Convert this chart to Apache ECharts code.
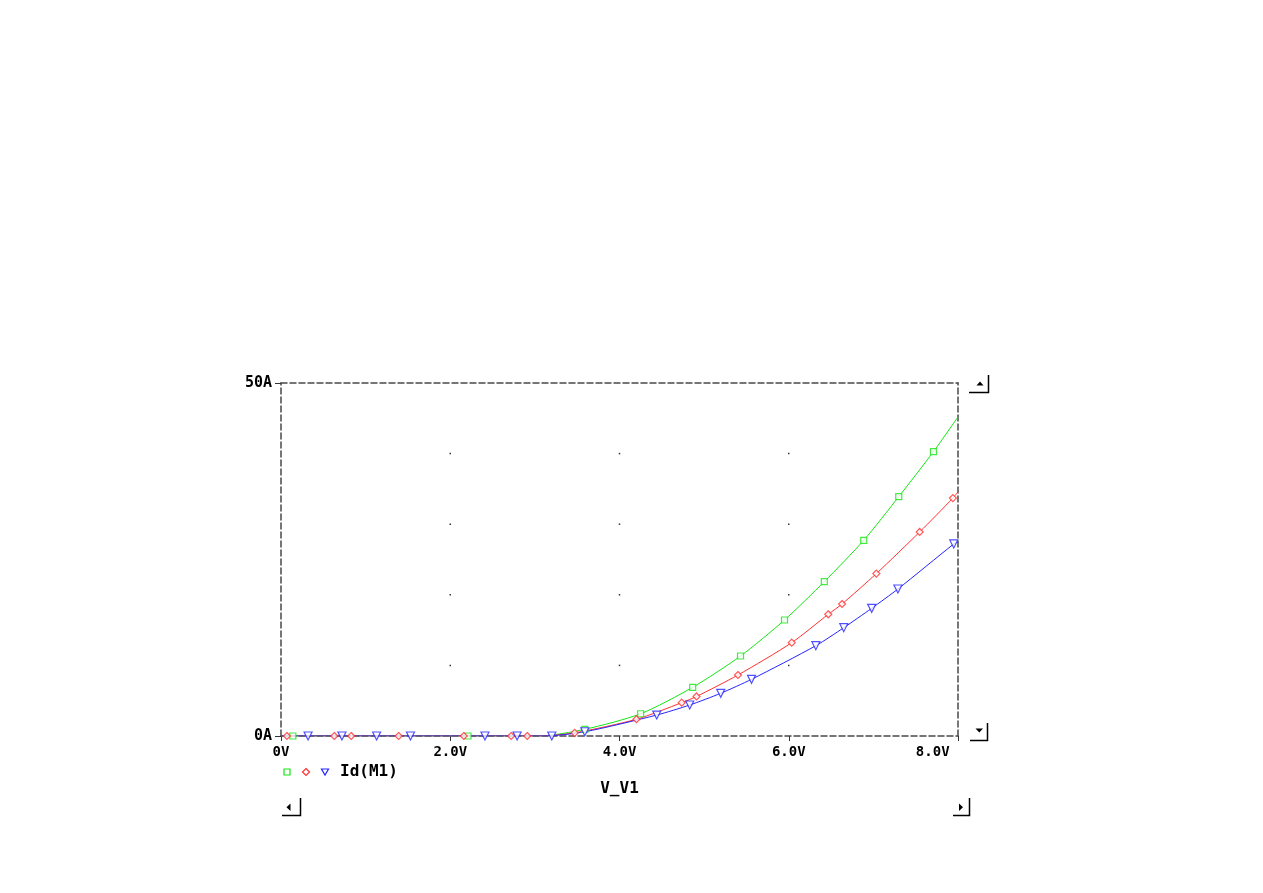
<!DOCTYPE html>
<html>
<head>
<meta charset="utf-8">
<script src="https://cdn.jsdelivr.net/npm/echarts@6/dist/echarts.min.js"></script>
<style>
html,body{margin:0;padding:0;background:#fff;}
#chart{width:1263px;height:893px;}
</style>
</head>
<body>
<div id="chart"></div>
<script>
// ---- data (V_V1 in volts, Id(M1) in amps) ----
const greenCurve = [[0,0],[3.05,0],[3.59,0.95],[4.25,3.15],[4.865,6.9],[5.43,11.33],[5.95,16.43],[6.42,21.86],[6.886,27.72],[7.30,33.9],[7.71,40.27],[8.0,45.2]];
const greenMarks = [[0.14,0],[2.21,0],[3.59,0.95],[4.25,3.15],[4.865,6.9],[5.43,11.33],[5.95,16.43],[6.42,21.86],[6.886,27.72],[7.30,33.9],[7.71,40.27]];

const redCurve = [[0,0],[3.05,0],[3.47,0.45],[4.2,2.37],[4.735,4.72],[4.91,5.6],[5.4,8.64],[6.035,13.22],[6.467,17.24],[6.63,18.7],[7.035,23.0],[7.547,28.9],[7.94,33.7],[8.0,34.6]];
const redMarks = [[0.07,0],[0.63,0],[0.83,0],[1.39,0],[2.16,0],[2.72,0],[2.91,0],[3.47,0.45],[4.2,2.37],[4.735,4.72],[4.91,5.6],[5.4,8.64],[6.035,13.22],[6.467,17.24],[6.63,18.7],[7.035,23.0],[7.547,28.9],[7.94,33.7]];

const blueCurve = [[0,0],[3.1,0],[3.59,0.6],[4.44,2.97],[4.83,4.39],[5.196,6.05],[5.56,8.03],[6.32,12.79],[6.65,15.34],[6.98,18.09],[7.29,20.82],[7.95,27.2],[8.0,27.5]];
const blueMarks = [[0.32,0],[0.72,0],[1.13,0],[1.53,0],[2.41,0],[2.79,0],[3.2,0],[3.59,0.6],[4.44,2.97],[4.83,4.39],[5.196,6.05],[5.56,8.03],[6.32,12.79],[6.65,15.34],[6.98,18.09],[7.29,20.82],[7.95,27.2]];

const xTickValues = [0, 2, 4, 6, 8];
const xTickLabels = ['0V', '2.0V', '4.0V', '6.0V', '8.0V '];
const yTickValues = [0, 50];
const yTickLabels = ['0A', '50A'];
const gridDotX = [2, 4, 6];
const gridDotY = [10, 20, 30, 40];
const xAxisTitle = 'V_V1';
const traceName = 'Id(M1)';

// ---- build ----
const gridDots = [];
gridDotX.forEach(x => gridDotY.forEach(y => gridDots.push([x, y])));

const FONT = 'DejaVu Sans Mono';
const frameLine = {show: true, onZero: false, lineStyle: {color: '#4a4a4a', width: 1.5, type: [6, 3]}};
const GREEN = '#14e614', RED = '#ff3030', BLUE = '#2424ff';

const chart = echarts.init(document.getElementById('chart'));

function lineSeries(data, color) {
  return {type: 'line', data: data, showSymbol: false, smooth: 0.25,
    lineStyle: {color: color, width: 1}, silent: true, animation: false, z: 3};
}
function markSeries(data, color, symbol, size, rotate) {
  return {type: 'scatter', data: data, symbol: symbol, symbolSize: size, symbolRotate: rotate || 0,
    itemStyle: {color: '#fff', borderColor: color, borderWidth: 1.2}, silent: true, animation: false, z: 4};
}

const legendY = 772;
const option = {
  backgroundColor: '#fff',
  animation: false,
  grid: {left: 281, top: 383, width: 677, height: 353, containLabel: false},
  xAxis: [
    {type: 'value', min: 0, max: 8, interval: 2, position: 'bottom',
      axisLine: frameLine, splitLine: {show: false},
      axisTick: {show: true, length: 5, lineStyle: {color: '#333', width: 1}},
      axisLabel: {margin: 9, fontFamily: FONT, fontWeight: 'bold', fontSize: 14, color: '#000',
        alignMaxLabel: 'right',
        formatter: v => { const i = xTickValues.indexOf(v); return i >= 0 ? xTickLabels[i] : ''; }},
      name: xAxisTitle, nameLocation: 'middle', nameGap: 45,
      nameTextStyle: {fontFamily: FONT, fontWeight: 'bold', fontSize: 16, color: '#000'}},
    {type: 'value', min: 0, max: 8, position: 'top', axisLine: frameLine,
      axisTick: {show: false}, axisLabel: {show: false}, splitLine: {show: false}}
  ],
  yAxis: [
    {type: 'value', min: 0, max: 50, interval: 50, position: 'left',
      axisLine: frameLine, splitLine: {show: false},
      axisTick: {show: true, length: 6, lineStyle: {color: '#333', width: 1}},
      axisLabel: {margin: 9, fontFamily: FONT, fontWeight: 'bold', fontSize: 15, color: '#000',
        formatter: v => { const i = yTickValues.indexOf(v); return i >= 0 ? yTickLabels[i] : ''; }}},
    {type: 'value', min: 0, max: 50, position: 'right', axisLine: frameLine,
      axisTick: {show: false}, axisLabel: {show: false}, splitLine: {show: false}}
  ],
  series: [
    {type: 'scatter', data: gridDots, symbol: 'rect', symbolSize: 1.5, itemStyle: {color: '#000'}, silent: true, z: 1},
    lineSeries(greenCurve, GREEN),
    lineSeries(redCurve, RED),
    lineSeries(blueCurve, BLUE),
    markSeries(greenMarks, GREEN, 'rect', 6),
    markSeries(redMarks, RED, 'diamond', 7),
    markSeries(blueMarks, BLUE, 'triangle', 8, 180)
  ],
  graphic: [
    // legend
    {type: 'rect', shape: {x: 284, y: legendY - 3, width: 6, height: 6}, style: {fill: '#fff', stroke: GREEN, lineWidth: 1.2}},
    {type: 'polygon', shape: {points: [[306, legendY - 3.5], [309.5, legendY], [306, legendY + 3.5], [302.5, legendY]]}, style: {fill: '#fff', stroke: RED, lineWidth: 1.2}},
    {type: 'polygon', shape: {points: [[321.5, legendY - 3], [328.5, legendY - 3], [325, legendY + 3]]}, style: {fill: '#fff', stroke: BLUE, lineWidth: 1.2}},
    {type: 'text', x: 340, y: legendY, style: {text: traceName, fontFamily: FONT, fontWeight: 'bold', fontSize: 16, fill: '#000', verticalAlign: 'middle'}},
    // scroll arrows
    {type: 'polyline', shape: {points: [[969, 392.5], [988.5, 392.5], [988.5, 375]]}, style: {stroke: '#000', lineWidth: 1.5, fill: null}},
    {type: 'polygon', shape: {points: [[976.5, 385.5], [983.5, 385.5], [980, 381.5]]}, style: {fill: '#000'}},
    {type: 'polyline', shape: {points: [[970, 740.5], [987.5, 740.5], [987.5, 723]]}, style: {stroke: '#000', lineWidth: 1.5, fill: null}},
    {type: 'polygon', shape: {points: [[975.5, 728.5], [983, 728.5], [979.3, 732.5]]}, style: {fill: '#000'}},
    {type: 'polyline', shape: {points: [[282, 815.5], [300.5, 815.5], [300.5, 798]]}, style: {stroke: '#000', lineWidth: 1.5, fill: null}},
    {type: 'polygon', shape: {points: [[290.5, 803.5], [290.5, 811], [286.5, 807.3]]}, style: {fill: '#000'}},
    {type: 'polyline', shape: {points: [[953, 815.5], [969.5, 815.5], [969.5, 798]]}, style: {stroke: '#000', lineWidth: 1.5, fill: null}},
    {type: 'polygon', shape: {points: [[959, 803.5], [959, 811], [963, 807.3]]}, style: {fill: '#000'}}
  ]
};
chart.setOption(option);
</script>
</body>
</html>
